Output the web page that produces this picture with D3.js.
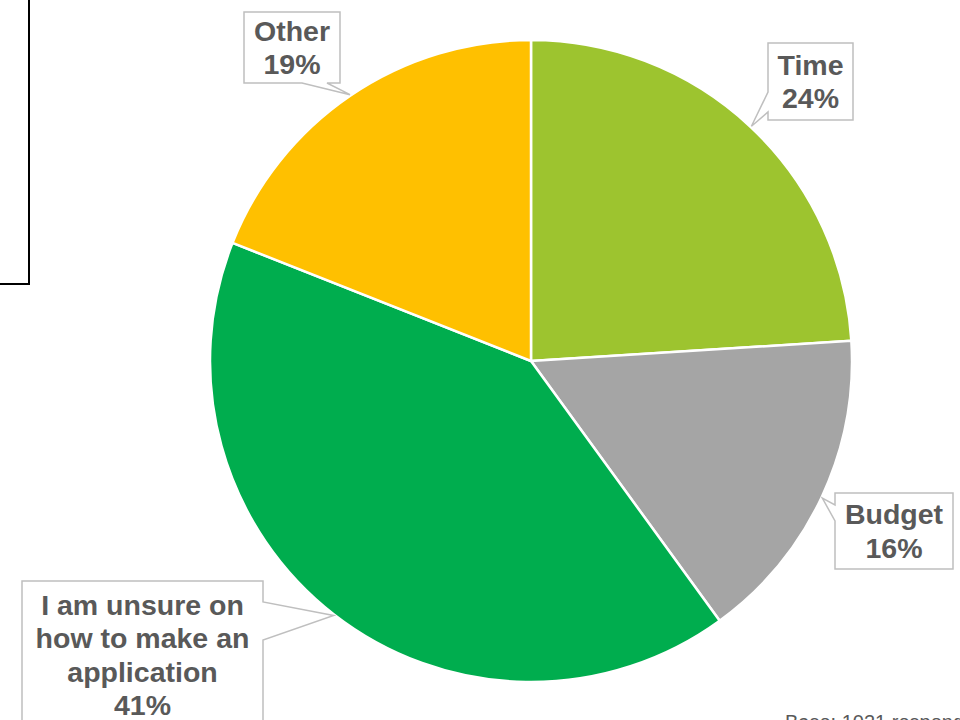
<!DOCTYPE html>
<html>
<head>
<meta charset="utf-8">
<script src="https://cdn.jsdelivr.net/npm/d3@7/dist/d3.min.js"></script>
<style>
  html, body { margin: 0; padding: 0; background: #ffffff; }
  svg { display: block; }
</style>
</head>
<body>
<svg id="chart" width="960" height="720"></svg>
<script>
// Reasons given (share of respondents, %)
const categories = ["Time", "Budget", "I am unsure on how to make an application", "Other"];
const values = [24, 16, 41, 19];
const labelLines = [["Time"], ["Budget"], ["I am unsure on", "how to make an", "application"], ["Other"]];
const colors = ["#9DC42F", "#A5A5A5", "#00AD4E", "#FFC000"];
const baseNote = "Base: 1021 respondents";

// Callout boxes: [left, top, right, bottom] and the edge the pointer leaves from
const callouts = [
  { box: [768, 43, 853, 120], side: "left", base: [92, 112] },
  { box: [835, 493, 953, 569], side: "left", base: [505, 521] },
  { box: [22, 581, 263, 760], side: "right", base: [602, 640] },
  { box: [244, 12, 340, 83], side: "bottom", base: [302, 327] }
];

const svg = d3.select("#chart");
const cx = 531, cy = 361, radius = 321;

// Frame edge of a neighbouring panel on the left
svg.append("path")
  .attr("d", "M29,0 V284 H0")
  .attr("fill", "none")
  .attr("stroke", "#000")
  .attr("stroke-width", 2);

const pie = d3.pie().sort(null).value(d => d)(values);
const arc = d3.arc().innerRadius(0).outerRadius(radius);

const g = svg.append("g").attr("transform", `translate(${cx},${cy})`);
g.selectAll("path.slice")
  .data(pie)
  .join("path")
  .attr("class", "slice")
  .attr("d", arc)
  .attr("fill", (d, i) => colors[i])
  .attr("stroke", "#fff")
  .attr("stroke-width", 2.5)
  .attr("stroke-linejoin", "round");

// Callouts with pointer to each slice's mid-angle on the rim
const fmt = d3.format(".0f");
pie.forEach((d, i) => {
  const c = callouts[i];
  const [l, t, r, b] = c.box;
  const mid = (d.startAngle + d.endAngle) / 2;
  const tip = [cx + Math.sin(mid) * (radius + 1), cy - Math.cos(mid) * (radius + 1)];
  let p;
  if (c.side === "left") {
    p = `M${l},${t} H${r} V${b} H${l} V${c.base[1]} L${tip[0]},${tip[1]} L${l},${c.base[0]} Z`;
  } else if (c.side === "right") {
    p = `M${l},${t} H${r} V${c.base[0]} L${tip[0]},${tip[1]} L${r},${c.base[1]} V${b} H${l} Z`;
  } else {
    p = `M${l},${t} H${r} V${b} H${c.base[1]} L${tip[0]},${tip[1]} L${c.base[0]},${b} H${l} Z`;
  }
  svg.append("path")
    .attr("d", p)
    .attr("fill", "#fff")
    .attr("stroke", "#BFBFBF")
    .attr("stroke-width", 1.5)
    .attr("stroke-linejoin", "miter");

  const lines = labelLines[i].concat([fmt(values[i]) + "%"]);
  const lineH = 33.5;
  const boxMidY = c.side === "right" ? 655 : (t + b) / 2;
  const firstBase = boxMidY - (lines.length - 1) * lineH / 2 + 10;
  const text = svg.append("text")
    .attr("x", (l + r) / 2)
    .attr("text-anchor", "middle")
    .attr("font-family", "'Liberation Sans', Arial, sans-serif")
    .attr("font-weight", "bold")
    .attr("font-size", 28.5)
    .attr("fill", "#595959");
  lines.forEach((s, k) => {
    text.append("tspan")
      .attr("x", (l + r) / 2)
      .attr("y", firstBase + k * lineH)
      .text(s);
  });
});

svg.append("text")
  .attr("x", 785)
  .attr("y", 729)
  .attr("font-family", "'Liberation Sans', Arial, sans-serif")
  .attr("font-size", 20)
  .attr("fill", "#595959")
  .text(baseNote);
</script>
</body>
</html>
